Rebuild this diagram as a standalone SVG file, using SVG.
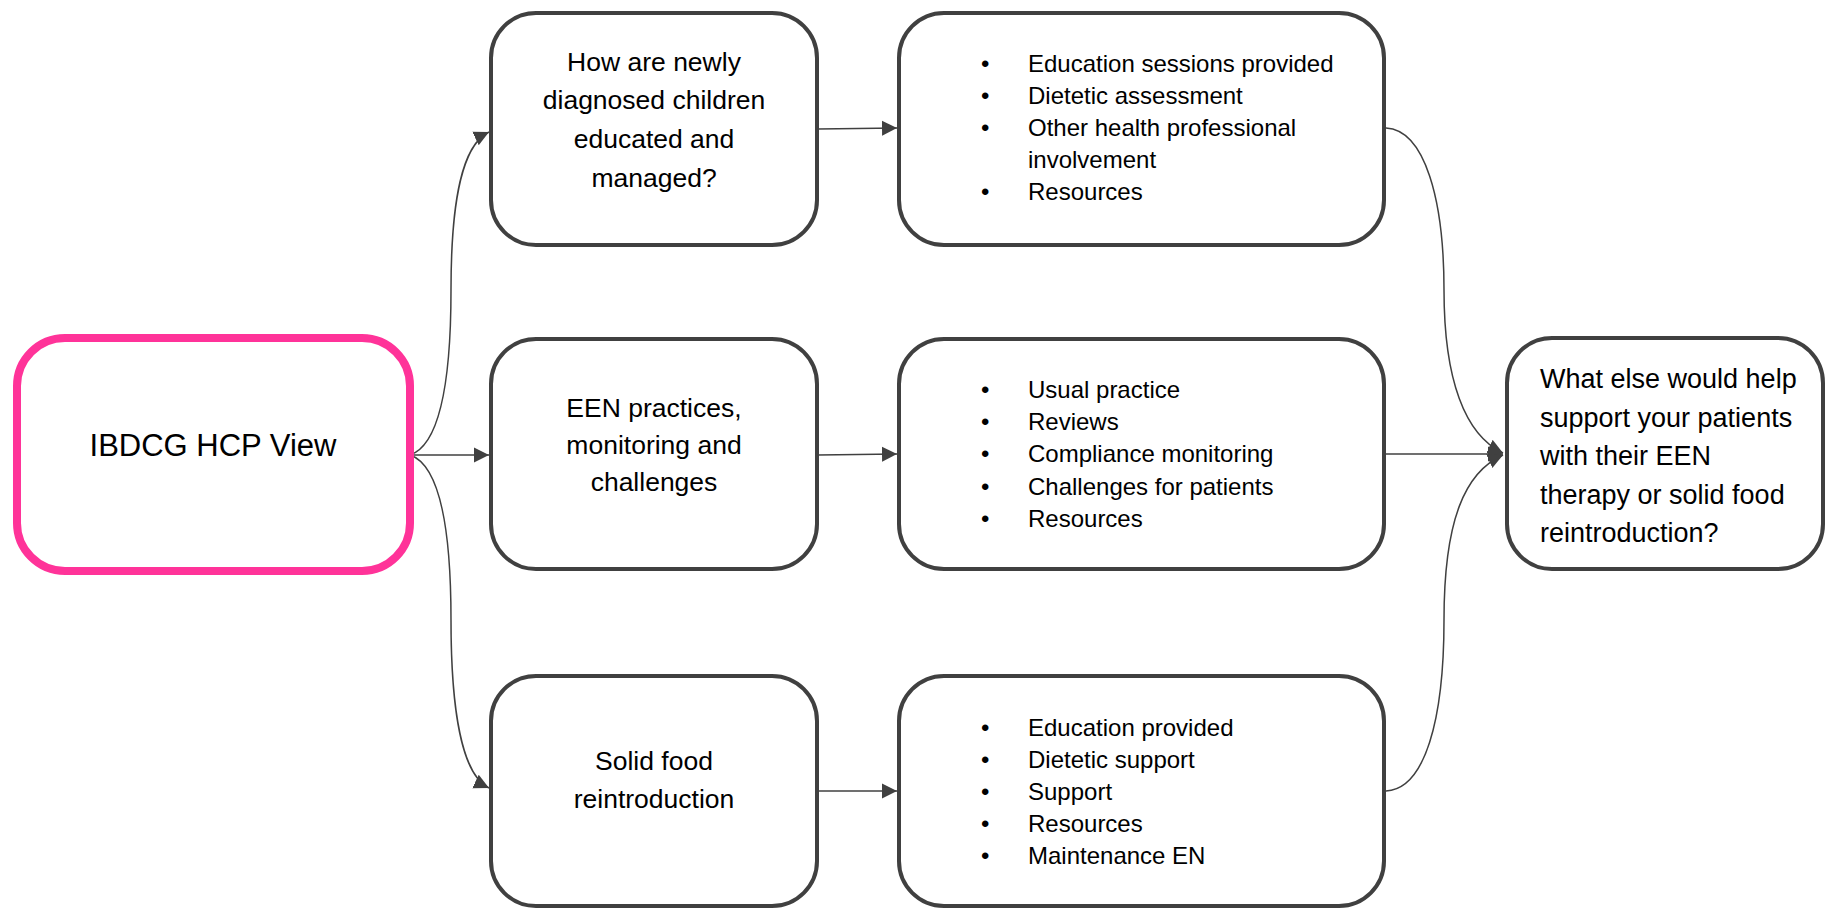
<svg xmlns="http://www.w3.org/2000/svg" width="1825" height="908" viewBox="0 0 1825 908">
  <defs>
    <style>
      .box { fill: #ffffff; stroke: #404040; stroke-width: 4; }
      .start { fill: #ffffff; stroke: #ff3399; stroke-width: 8; }
      .q { font-family: "Liberation Sans", Arial, sans-serif; font-size: 26.5px; fill: #000000; text-anchor: middle; }
      .title { font-family: "Liberation Sans", Arial, sans-serif; font-size: 31px; fill: #000000; text-anchor: middle; }
      .list { font-family: "Liberation Sans", Arial, sans-serif; font-size: 24px; fill: #000000; }
      .side { font-family: "Liberation Sans", Arial, sans-serif; font-size: 27px; fill: #000000; }
      .link { fill: none; stroke: #404040; stroke-width: 1.5; marker-end: url(#arrow); }
    </style>
    <marker id="arrow" markerUnits="userSpaceOnUse" markerWidth="16" markerHeight="16" viewBox="0 0 16 16" refX="15" refY="8" orient="auto">
      <path d="M0,0.5 L15,8 L0,15.5 Z" fill="#404040"/>
    </marker>
  </defs>

  <!-- connectors -->
  <g id="connectors">
    <path class="link" d="M410,455 C440,445 451,380 451,290 C451,200 462,145 489,132"/>
    <path class="link" d="M410,455 L489,455"/>
    <path class="link" d="M410,455 C440,465 451,530 451,620 C451,710 462,775 489,788"/>
    <path class="link" d="M818,129 L897,128"/>
    <path class="link" d="M818,455 L897,454"/>
    <path class="link" d="M818,791 L897,791"/>
    <path class="link" d="M1386,128 C1425,130 1444,200 1444,290 C1444,380 1465,435 1503,453"/>
    <path class="link" d="M1386,454 L1503,454"/>
    <path class="link" d="M1386,791 C1425,789 1444,720 1444,620 C1444,520 1465,472 1503,455"/>
  </g>

  <!-- source node -->
  <g id="node-hcp-view">
    <rect class="start" x="17" y="338" width="393" height="233" rx="48"/>
    <text class="title" x="213" y="456">IBDCG HCP View</text>
  </g>

  <!-- question column -->
  <g id="node-newly-diagnosed">
    <rect class="box" x="491" y="13" width="326" height="232" rx="45"/>
    <text class="q" x="654" y="71">How are newly</text>
    <text class="q" x="654" y="109">diagnosed children</text>
    <text class="q" x="654" y="148">educated and</text>
    <text class="q" x="654" y="187">managed?</text>
  </g>
  <g id="node-een-practices">
    <rect class="box" x="491" y="339" width="326" height="230" rx="45"/>
    <text class="q" x="654" y="417">EEN practices,</text>
    <text class="q" x="654" y="454">monitoring and</text>
    <text class="q" x="654" y="491">challenges</text>
  </g>
  <g id="node-solid-food">
    <rect class="box" x="491" y="676" width="326" height="230" rx="45"/>
    <text class="q" x="654" y="770">Solid food</text>
    <text class="q" x="654" y="808">reintroduction</text>
  </g>

  <!-- topic lists -->
  <g id="node-education-topics">
    <rect class="box" x="899" y="13" width="485" height="232" rx="45"/>
    <g class="list">
      <text x="981" y="72">•</text><text x="1028" y="72">Education sessions provided</text>
      <text x="981" y="104">•</text><text x="1028" y="104">Dietetic assessment</text>
      <text x="981" y="136">•</text><text x="1028" y="136">Other health professional</text>
      <text x="1028" y="168">involvement</text>
      <text x="981" y="200">•</text><text x="1028" y="200">Resources</text>
    </g>
  </g>
  <g id="node-een-topics">
    <rect class="box" x="899" y="339" width="485" height="230" rx="45"/>
    <g class="list">
      <text x="981" y="398">•</text><text x="1028" y="398">Usual practice</text>
      <text x="981" y="430">•</text><text x="1028" y="430">Reviews</text>
      <text x="981" y="462">•</text><text x="1028" y="462">Compliance monitoring</text>
      <text x="981" y="495">•</text><text x="1028" y="495">Challenges for patients</text>
      <text x="981" y="527">•</text><text x="1028" y="527">Resources</text>
    </g>
  </g>
  <g id="node-food-topics">
    <rect class="box" x="899" y="676" width="485" height="230" rx="45"/>
    <g class="list">
      <text x="981" y="736">•</text><text x="1028" y="736">Education provided</text>
      <text x="981" y="768">•</text><text x="1028" y="768">Dietetic support</text>
      <text x="981" y="800">•</text><text x="1028" y="800">Support</text>
      <text x="981" y="832">•</text><text x="1028" y="832">Resources</text>
      <text x="981" y="864">•</text><text x="1028" y="864">Maintenance EN</text>
    </g>
  </g>

  <!-- closing question -->
  <g id="node-what-else">
    <rect class="box" x="1507" y="338" width="316" height="231" rx="45"/>
    <g class="side">
      <text x="1540" y="388">What else would help</text>
      <text x="1540" y="427">support your patients</text>
      <text x="1540" y="465">with their EEN</text>
      <text x="1540" y="504">therapy or solid food</text>
      <text x="1540" y="542">reintroduction?</text>
    </g>
  </g>
</svg>
